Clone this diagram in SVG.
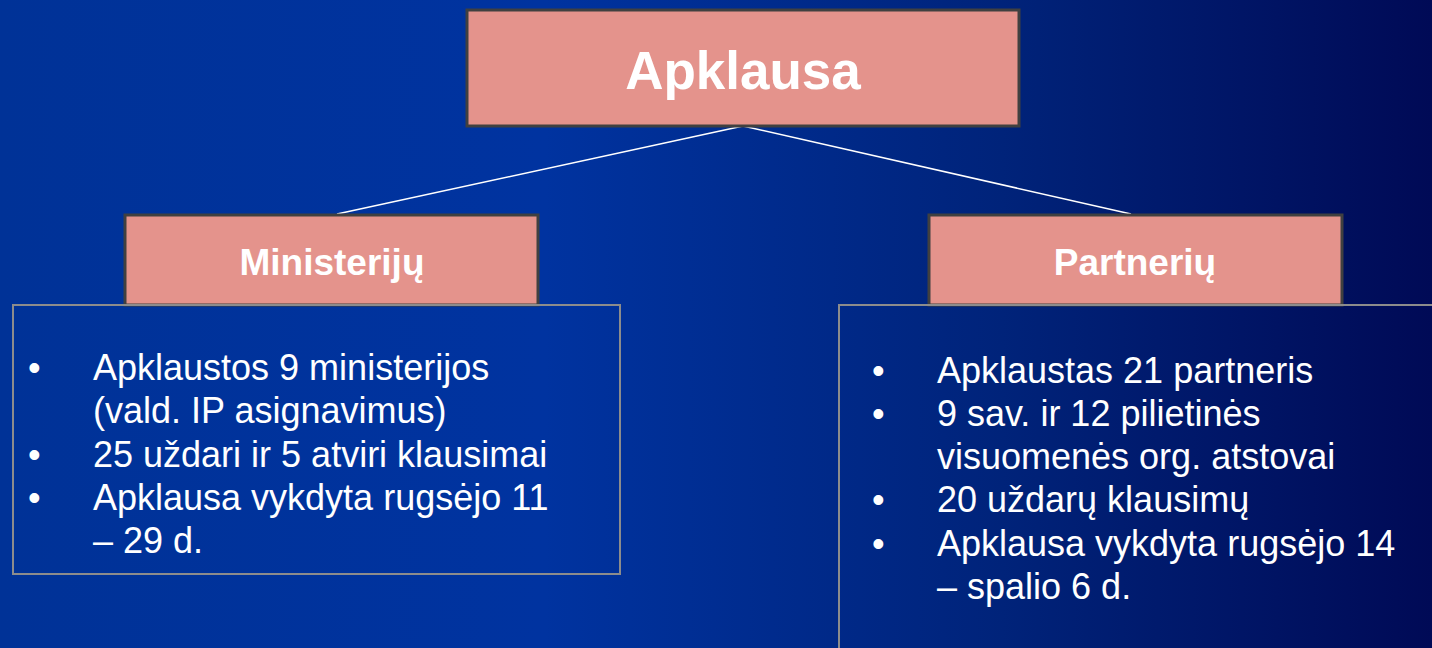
<svg xmlns="http://www.w3.org/2000/svg" width="1432" height="648" viewBox="0 0 1432 648">
<defs>
<linearGradient id="bg" x1="0" y1="0" x2="1" y2="0">
<stop offset="0" stop-color="#003297"/>
<stop offset="0.38" stop-color="#0033a0"/>
<stop offset="0.7" stop-color="#00237a"/>
<stop offset="1" stop-color="#000a56"/>
</linearGradient>
</defs>
<style>
.hdr{fill:#e4938c;stroke:#404040;stroke-width:3}
.box{fill:none;stroke:#8c8c8c;stroke-width:2}
.t{font-family:"Liberation Sans",Arial,sans-serif;fill:#ffffff}
.h{font-weight:bold;text-anchor:middle}
.b{font-size:36px}
.conn{stroke:#ffffff;stroke-width:1.5;fill:none}
</style>
<rect x="0" y="0" width="1432" height="648" fill="url(#bg)"/>
<g id="connectors">
<line class="conn" x1="743" y1="126" x2="337" y2="214"/>
<line class="conn" x1="743" y1="126" x2="1131" y2="214"/>
</g>
<g id="apklausa">
<rect class="hdr" x="467" y="10" width="552" height="116"/>
<text class="t h" x="743" y="89" font-size="53">Apklausa</text>
</g>
<g id="ministeriju">
<rect class="hdr" x="125" y="215" width="413" height="90"/>
<text class="t h" x="332" y="275" font-size="37">Ministerijų</text>
</g>
<g id="partneriu">
<rect class="hdr" x="929" y="215" width="413" height="90"/>
<text class="t h" x="1135" y="275" font-size="37">Partnerių</text>
</g>
<g id="ministeriju-details">
<rect class="box" x="13" y="305" width="607" height="269"/>
<text class="t b"><tspan x="28" y="380">•</tspan><tspan x="93" y="380">Apklaustos 9 ministerijos</tspan><tspan x="93" y="423">(vald. IP asignavimus)</tspan><tspan x="28" y="467">•</tspan><tspan x="93" y="467">25 uždari ir 5 atviri klausimai</tspan><tspan x="28" y="510">•</tspan><tspan x="93" y="510">Apklausa vykdyta rugsėjo 11</tspan><tspan x="93" y="553">– 29 d.</tspan></text>
</g>
<g id="partneriu-details">
<rect class="box" x="839" y="305" width="620" height="370"/>
<text class="t b"><tspan x="872" y="383">•</tspan><tspan x="937" y="383">Apklaustas 21 partneris</tspan><tspan x="872" y="426">•</tspan><tspan x="937" y="426">9 sav. ir 12 pilietinės</tspan><tspan x="937" y="469">visuomenės org. atstovai</tspan><tspan x="872" y="512">•</tspan><tspan x="937" y="512">20 uždarų klausimų</tspan><tspan x="872" y="556">•</tspan><tspan x="937" y="556">Apklausa vykdyta rugsėjo 14</tspan><tspan x="937" y="599">– spalio 6 d.</tspan></text>
</g>
</svg>
